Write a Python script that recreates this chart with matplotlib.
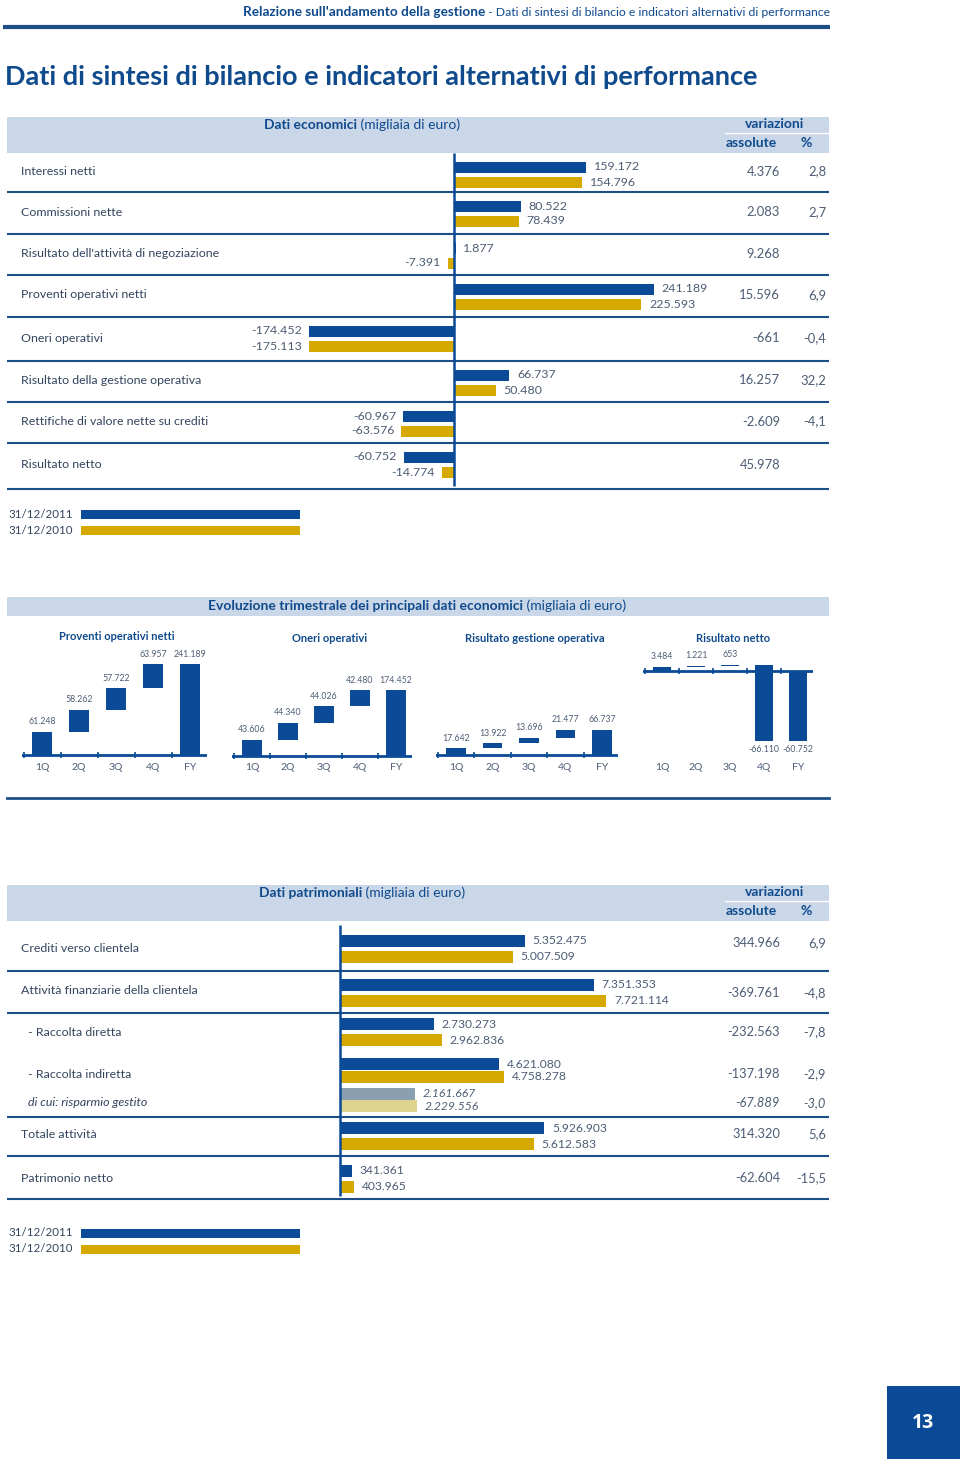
import matplotlib
matplotlib.use("Agg")
import matplotlib.pyplot as plt
from matplotlib import font_manager
from matplotlib.patches import Rectangle
import numpy as np

# ---- dati economici (migliaia di euro) ----
eco_labels = ["Interessi netti", "Commissioni nette", "Risultato dell'attività di negoziazione",
              "Proventi operativi netti", "Oneri operativi", "Risultato della gestione operativa",
              "Rettifiche di valore nette su crediti", "Risultato netto"]
eco_2011 = [159172, 80522, 1877, 241189, -174452, 66737, -60967, -60752]
eco_2010 = [154796, 78439, -7391, 225593, -175113, 50480, -63576, -14774]
eco_var_abs = [4376, 2083, 9268, 15596, -661, 16257, -2609, 45978]
eco_var_pct = [2.8, 2.7, None, 6.9, -0.4, 32.2, -4.1, None]

# ---- evoluzione trimestrale ----
quarters = ["1Q", "2Q", "3Q", "4Q", "FY"]
q_titles = ["Proventi operativi netti", "Oneri operativi", "Risultato gestione operativa", "Risultato netto"]
q_proventi = [61248, 58262, 57722, 63957]
q_oneri = [43606, 44340, 44026, 42480]
q_gestione = [17642, 13922, 13696, 21477]
q_netto = [3484, 1221, 653, -66110]
fy_values = [241189, 174452, 66737, -60752]

# ---- dati patrimoniali ----
pat_labels = ["Crediti verso clientela", "Attività finanziarie della clientela", " - Raccolta diretta",
              " - Raccolta indiretta", "di cui: risparmio gestito", "Totale attività", "Patrimonio netto"]
pat_2011 = [5352475, 7351353, 2730273, 4621080, 2161667, 5926903, 341361]
pat_2010 = [5007509, 7721114, 2962836, 4758278, 2229556, 5612583, 403965]
pat_var_abs = [344966, -369761, -232563, -137198, -67889, 314320, -62604]
pat_var_pct = [6.9, -4.8, -7.8, -2.9, -3.0, 5.6, -15.5]

legend_dates = ["31/12/2011", "31/12/2010"]


def it_num(v):
    s = f"{abs(v):,}".replace(",", ".")
    return "-" + s if v < 0 else s


def it_pct(v):
    return f"{v:.1f}".replace(".", ",")


names = {f.name for f in font_manager.fontManager.ttflist}
NARROW = "Liberation Sans Narrow" if "Liberation Sans Narrow" in names else "Lato"
NUMF = "Lato"

BLUE = "#0a4a96"
YEL = "#d6a900"
GREY_B = "#8a9fb0"
LIGHT_Y = "#ddd28e"
BAND = "#cad7e8"
HEAD = "#0f4a8c"
LAB = "#33445e"
NUM = "#4d5d75"
LINE = "#1d4e86"

W, H = 960, 1459
fig = plt.figure(figsize=(W / 100, H / 100), dpi=100)
page = fig.add_axes([0, 0, 1, 1])
page.set_xlim(0, W)
page.set_ylim(H, 0)
page.axis("off")
renderer = fig.canvas.get_renderer()


def px_axes(x0, y0, x1, y1):
    return fig.add_axes([x0 / W, 1 - y1 / H, (x1 - x0) / W, (y1 - y0) / H])


def rich(x, y, parts, ha="left"):
    texts, widths = [], []
    for s, kw in parts:
        t = page.text(0, y, s, va="center", ha="left", **kw)
        texts.append(t)
        widths.append(t.get_window_extent(renderer).width)
    total = sum(widths)
    start = x if ha == "left" else (x - total if ha == "right" else x - total / 2)
    for t, w in zip(texts, widths):
        t.set_x(start)
        start += w


# page header
rich(830, 12, [("Relazione sull'andamento della gestione", dict(family=NARROW, weight="bold", size=9.8, color=HEAD)),
               (" - Dati di sintesi di bilancio e indicatori alternativi di performance",
                dict(family=NARROW, size=8.8, color=HEAD))], ha="right")
page.plot([3, 830], [27, 27], color=LINE, lw=3, solid_capstyle="butt")
page.text(5, 77, "Dati di sintesi di bilancio e indicatori alternativi di performance",
          family=NARROW, weight="bold", size=19.5, color=HEAD, va="center")


def band_header(y0, y1, title):
    page.add_patch(Rectangle((7, y0), 822, y1 - y0, color=BAND, lw=0))
    rich(362, y0 + 8, [(title, dict(family=NARROW, weight="bold", size=10, color=HEAD)),
                       (" (migliaia di euro)", dict(family=NARROW, size=10, color=HEAD))], ha="center")
    page.text(775, y0 + 7, "variazioni", family=NARROW, weight="bold", size=10, color=HEAD,
              ha="center", va="center")
    page.plot([725, 828], [y0 + 16, y0 + 16], color="white", lw=1)
    page.text(751, y0 + 26, "assolute", family=NARROW, weight="bold", size=10, color=HEAD,
              ha="center", va="center")
    page.text(806, y0 + 26, "%", family=NARROW, weight="bold", size=10, color=HEAD,
              ha="center", va="center")


def legend(y):
    cols = [BLUE, YEL]
    for i, (d, c) in enumerate(zip(legend_dates, cols)):
        yy = y + i * 16
        page.text(8, yy, d, family=NARROW, size=8.3, color=LAB, va="center")
        page.add_patch(Rectangle((81, yy - 4.5), 219, 9, color=c, lw=0))


# ---------------- section 1: dati economici ----------------
band_header(117, 153, "Dati economici")
sep1 = [192, 234, 275, 317, 361, 402, 443, 489]
tops1 = [153] + sep1[:-1]
page.hlines(sep1, 7, 829, color=LINE, lw=1.5)

ZERO1, SC1 = 454, 0.83 / 1000
ax1 = px_axes(250, 150, 720, 489)
ax1.set_ylim(489, 150)
ax1.set_xlim(-(ZERO1 - 250) / SC1, (720 - ZERO1) / SC1)
ax1.axis("off")
yb1 = [t + 14 for t in tops1]
yy1 = [t + 29 for t in tops1]
ax1.barh(yb1, eco_2011, height=11, color=BLUE)
ax1.barh(yy1, eco_2010, height=11, color=YEL)
ax1.vlines(0, 153, 486, color=BLUE, lw=1.8)
for vals, ys in ((eco_2011, yb1), (eco_2010, yy1)):
    for v, y in zip(vals, ys):
        ax1.annotate(it_num(v), (v, y), xytext=(5.5 if v >= 0 else -5, 0), textcoords="offset points",
                     ha="left" if v >= 0 else "right", va="center", family=NUMF, size=8.9, color=NUM)

for i, lab in enumerate(eco_labels):
    yc = (tops1[i] + sep1[i]) / 2 - 1
    page.text(21, yc, lab, family=NARROW, size=8.9, color=LAB, va="center")
    page.text(780, yc, it_num(eco_var_abs[i]), family=NUMF, size=9.4, color=NUM, ha="right", va="center")
    if eco_var_pct[i] is not None:
        page.text(826, yc, it_pct(eco_var_pct[i]), family=NUMF, size=9.4, color=NUM, ha="right", va="center")

legend(514)

# ---------------- section 2: evoluzione trimestrale ----------------
page.add_patch(Rectangle((7, 597), 822, 19, color=BAND, lw=0))
rich(417, 606, [("Evoluzione trimestrale dei principali dati economici",
                 dict(family=NARROW, weight="bold", size=10, color=HEAD)),
                (" (migliaia di euro)", dict(family=NARROW, size=10, color=HEAD))], ha="center")
page.plot([7, 829], [798, 798], color=LINE, lw=2)

panel_x = [(42, 37), (252, 36), (456, 36.5), (662, 34)]
panel_base = [755, 756, 755, 671]
panel_scale = [0.377, 0.377, 0.377, 1.15]
panel_title_xy = [(117, 636), (330, 638), (535, 638), (733, 639)]
panel_q = [q_proventi, q_oneri, q_gestione, q_netto]
Y0, Y1 = 640, 760
for k in range(4):
    x0c, dx = panel_x[k]
    ax = px_axes(x0c - 0.55 * dx, Y0, x0c + 4.45 * dx, Y1)
    s = panel_scale[k] / 1000
    ax.set_xlim(-0.55, 4.45)
    ax.set_ylim(-(Y1 - panel_base[k]) / s, (panel_base[k] - Y0) / s)
    for sp in ax.spines.values():
        sp.set_visible(False)
    ax.set_yticks([])
    ax.set_xticks(range(5))
    ax.set_xticklabels(quarters, family=NARROW, size=7.5, color=NUM)
    ax.tick_params(axis="x", length=0, pad=2)
    ax.patch.set_alpha(0)
    q = np.array(panel_q[k])
    before = np.concatenate([[0], np.cumsum(q)[:-1]])
    ax.bar(range(4), q, bottom=before, width=0.53, color=BLUE)
    ax.bar(4, fy_values[k], width=0.53, color=BLUE)
    ax.axhline(0, color=BLUE, lw=2)
    ax.plot(np.arange(-0.5, 5), np.zeros(6), ls="none", marker="|", ms=4, mew=1.2, color=BLUE)
    ends = list(before + np.where(q >= 0, q, 0)) + [max(fy_values[k], 0)]
    lows = list(before + np.where(q < 0, q, 0)) + [min(fy_values[k], 0)]
    vals = list(q) + [fy_values[k]]
    for i, v in enumerate(vals):
        if v >= 0:
            ax.annotate(it_num(int(v)), (i, ends[i]), xytext=(0, 4), textcoords="offset points",
                        ha="center", va="bottom", family=NUMF, size=6.3, color=NUM)
        else:
            ax.annotate(it_num(int(v)), (i, lows[i]), xytext=(0, -3), textcoords="offset points",
                        ha="center", va="top", family=NUMF, size=6.3, color=NUM)
    tx, ty = panel_title_xy[k]
    page.text(tx, ty, q_titles[k], family=NARROW, weight="bold", size=8, color=HEAD, ha="center", va="center")

# ---------------- section 3: dati patrimoniali ----------------
band_header(885, 921, "Dati patrimoniali")
page.hlines([971, 1013, 1117, 1156, 1199], 7, 829, color=LINE, lw=1.5)
ZERO3, SC3 = 340, 34.5 / 1e6
ax3 = px_axes(330, 921, 720, 1199)
ax3.set_ylim(1199, 921)
ax3.set_xlim(-(ZERO3 - 330) / SC3, (720 - ZERO3) / SC3)
ax3.axis("off")
yb3 = [940.5, 985, 1024, 1064, 1093.5, 1128, 1170.5]
yy3 = [957, 1001, 1040, 1077, 1106, 1144, 1187]
c11 = [BLUE] * 4 + [GREY_B] + [BLUE] * 2
c10 = [YEL] * 4 + [LIGHT_Y] + [YEL] * 2
ax3.barh(yb3, pat_2011, height=12, color=c11)
ax3.barh(yy3, pat_2010, height=12, color=c10)
ax3.vlines(0, 925, 1196, color=BLUE, lw=1.8)
for vals, ys in ((pat_2011, yb3), (pat_2010, yy3)):
    for i, (v, y) in enumerate(zip(vals, ys)):
        ax3.annotate(it_num(v), (v, y), xytext=(5.5, 0), textcoords="offset points", ha="left", va="center",
                     family=NUMF, size=8.7, color=NUM, style="italic" if i == 4 else "normal")

lab_y3 = [948, 990, 1032, 1074, 1103, 1134, 1178]
var_y3 = [943, 993, 1032, 1074, 1103, 1134, 1178]
lab_x3 = [21, 21, 25, 25, 28, 21, 21]
for i, lab in enumerate(pat_labels):
    st = "italic" if i == 4 else "normal"
    page.text(lab_x3[i], lab_y3[i], lab, family=NARROW, size=8.9, color=LAB, va="center", style=st)
    page.text(780, var_y3[i], it_num(pat_var_abs[i]), family=NUMF, size=9.3, color=NUM, ha="right",
              va="center", style=st)
    page.text(826, var_y3[i], it_pct(pat_var_pct[i]), family=NUMF, size=9.3, color=NUM, ha="right",
              va="center", style=st)

legend(1233)

# page number
page.add_patch(Rectangle((887, 1386), 73, 73, color=BLUE, lw=0))
page.text(923, 1423, "13", family="Open Sans", weight="bold", size=14, color="white", ha="center", va="center")

fig.savefig("out.png", dpi=100)
